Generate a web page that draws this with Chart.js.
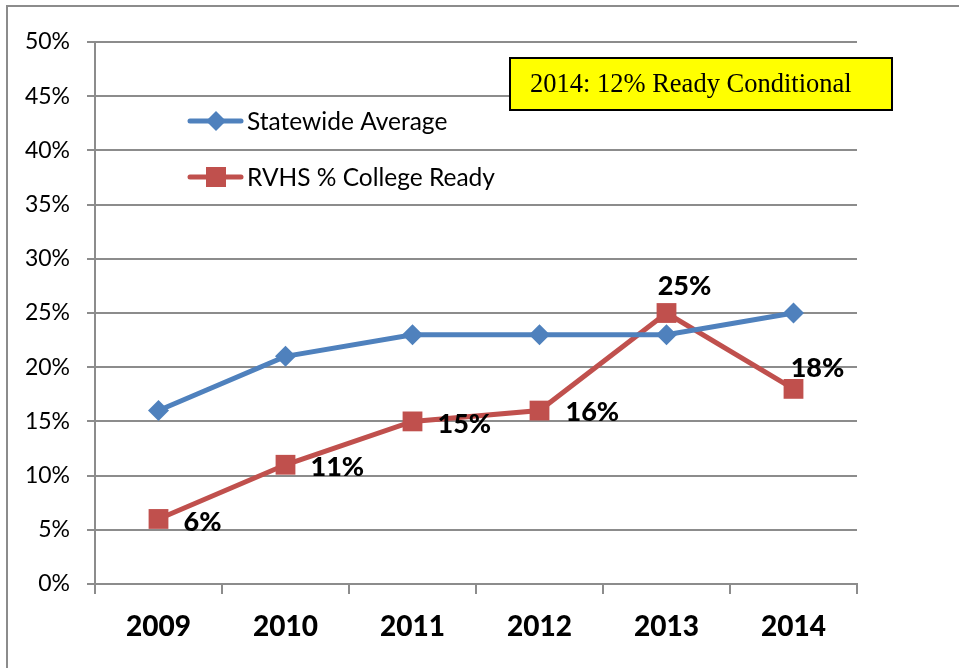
<!DOCTYPE html>
<html>
<head>
<meta charset="utf-8">
<script src="https://cdn.jsdelivr.net/npm/chart.js@4/dist/chart.umd.min.js"></script>
<style>
  html, body { margin: 0; padding: 0; background: #fff; }
  #wrap { width: 959px; height: 668px; position: relative; }
</style>
</head>
<body>
<div id="wrap"><canvas id="grafico" width="959" height="668"></canvas></div>
<script>
// datos
const years = ["2009", "2010", "2011", "2012", "2013", "2014"];
const statewide = [16, 21, 23, 23, 23, 25];
const rvhs = [6, 11, 15, 16, 25, 18];
const yTicks = [0, 5, 10, 15, 20, 25, 30, 35, 40, 45, 50];
const nota = "2014: 12% Ready Conditional";

const azul = "#4F81BD";
const rojo = "#C0504D";
const fuente = "Lato, 'Open Sans', sans-serif";

// dibuja el marco, la leyenda, la nota amarilla y las etiquetas
const extras = {
    id: "extras",
    beforeDraw(chart) {
        const c = chart.ctx;
        c.save();
        c.fillStyle = "#fff";
        c.fillRect(0, 0, chart.width, chart.height);
        c.strokeStyle = "#8c8c8c";
        c.lineWidth = 2;
        c.beginPath();
        c.moveTo(7, chart.height);
        c.lineTo(7, 6);
        c.lineTo(chart.width, 6);
        c.stroke();
        c.restore();
    },
    afterDatasetsDraw(chart) {
        const c = chart.ctx;
        c.save();
        // etiquetas de la serie roja
        const meta = chart.getDatasetMeta(1);
        const offs = [[25, 3], [25, 3], [25, 3], [26, 2], [18, -27], [24, -21]];
        c.font = "900 27px " + fuente;
        c.fillStyle = "#000";
        c.textBaseline = "middle";
        meta.data.forEach((p, i) => {
            const o = offs[i];
            c.textAlign = i >= 4 ? "center" : "left";
            c.fillText(rvhs[i] + "%", p.x + o[0], p.y + o[1]);
        });

        // leyenda
        const items = [
            { txt: "Statewide Average", color: azul, tipo: "rombo", y: 121 },
            { txt: "RVHS % College Ready", color: rojo, tipo: "cuadro", y: 177 }
        ];
        items.forEach(it => {
            c.strokeStyle = it.color;
            c.lineWidth = 5;
            c.lineCap = "round";
            c.beginPath();
            c.moveTo(190, it.y);
            c.lineTo(241, it.y);
            c.stroke();
            c.fillStyle = it.color;
            if (it.tipo === "rombo") {
                c.beginPath();
                c.moveTo(216, it.y - 10);
                c.lineTo(226, it.y);
                c.lineTo(216, it.y + 10);
                c.lineTo(206, it.y);
                c.closePath();
                c.fill();
            } else {
                c.fillRect(206, it.y - 10, 20, 20);
            }
            c.fillStyle = "#000";
            c.font = "24.5px " + fuente;
            c.textAlign = "left";
            c.textBaseline = "middle";
            c.fillText(it.txt, 247, it.y + 1);
        });

        // nota amarilla
        c.fillStyle = "#FFFF00";
        c.fillRect(510, 58, 382, 52);
        c.strokeStyle = "#000";
        c.lineWidth = 2;
        c.strokeRect(510, 58, 382, 52);
        c.fillStyle = "#000";
        c.font = "26.5px 'Liberation Serif', 'Times New Roman', serif";
        c.textAlign = "left";
        c.fillText(nota, 530, 85);
        c.restore();
    }
};

const ctx = document.getElementById("grafico");

let grafico = new Chart(ctx, {
    type: "line",
    data: {
        labels: years,
        datasets: [{
            label: "Statewide Average",
            data: statewide,
            borderColor: azul,
            backgroundColor: azul,
            borderWidth: 5,
            pointStyle: "rectRot",
            pointRadius: 10.5,
            pointHoverRadius: 10.5,
            pointBorderWidth: 0,
            tension: 0
        }, {
            label: "RVHS % College Ready",
            data: rvhs,
            borderColor: rojo,
            backgroundColor: rojo,
            borderWidth: 5,
            pointStyle: "rect",
            pointRadius: 14,
            pointHoverRadius: 14,
            pointBorderWidth: 0,
            tension: 0
        }]
    },
    options: {
        responsive: false,
        animation: false,
        layout: { padding: { top: 42, right: 102, left: 0, bottom: 0 } },
        plugins: {
            legend: { display: false },
            tooltip: { enabled: false }
        },
        scales: {
            x: {
                offset: true,
                grid: {
                    offset: true,
                    drawOnChartArea: false,
                    drawTicks: true,
                    tickLength: 10,
                    color: "#8c8c8c",
                    lineWidth: 2
                },
                border: { color: "#8c8c8c", width: 2 },
                ticks: {
                    color: "#000",
                    font: { family: fuente, size: 28, weight: "900" },
                    padding: 16
                },
                afterFit(scale) { scale.height = 84; }
            },
            y: {
                min: 0,
                max: 50,
                afterBuildTicks(scale) { scale.ticks = yTicks.map(v => ({ value: v })); },
                grid: {
                    color: "#8c8c8c",
                    lineWidth: 2,
                    tickLength: 8
                },
                border: { color: "#8c8c8c", width: 2 },
                ticks: {
                    color: "#000",
                    font: { family: fuente, size: 23 },
                    padding: 17,
                    callback: v => v + "%"
                },
                afterFit(scale) { scale.width = 95; }
            }
        }
    },
    plugins: [extras]
});
</script>
</body>
</html>
